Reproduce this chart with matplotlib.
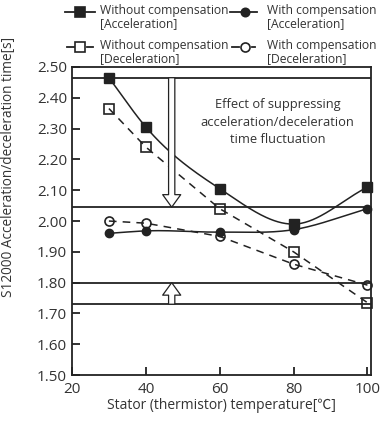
import numpy as np
import matplotlib
matplotlib.use('Agg')
import matplotlib.pyplot as plt
from matplotlib.lines import Line2D

plt.rcParams['font.family'] = ['Open Sans', 'Noto Sans CJK JP', 'DejaVu Sans']

temps = [30, 40, 60, 80, 100]
wo_acc = [2.465, 2.305, 2.105, 1.99, 2.11]
w_acc = [1.96, 1.968, 1.964, 1.972, 2.04]
wo_dec = [2.365, 2.24, 2.04, 1.90, 1.735]
w_dec = [2.00, 1.993, 1.95, 1.86, 1.792]

labels = ['Without compensation\n[Acceleration]',
          'With compensation\n[Acceleration]',
          'Without compensation\n[Deceleration]',
          'With compensation\n[Deceleration]']

hlines = [2.465, 2.045, 1.80, 1.73]
ink = '#222222'
txt = '#333333'


def smooth(x, y, n=200):
    # cubic hermite through the points, only used to draw the curve
    x = np.asarray(x, float)
    y = np.asarray(y, float)
    xs = np.linspace(x[0], x[-1], n)
    m = np.gradient(y, x)
    ys = np.empty_like(xs)
    for k, xv in enumerate(xs):
        i = min(np.searchsorted(x, xv, side='right') - 1, len(x) - 2)
        h = x[i + 1] - x[i]
        t = (xv - x[i]) / h
        h00 = 2 * t**3 - 3 * t**2 + 1
        h10 = t**3 - 2 * t**2 + t
        h01 = -2 * t**3 + 3 * t**2
        h11 = t**3 - t**2
        ys[k] = h00 * y[i] + h10 * h * m[i] + h01 * y[i + 1] + h11 * h * m[i + 1]
    return xs, ys


fig = plt.figure(figsize=(3.87, 4.21), dpi=100)
ax = fig.add_axes([0.186, 0.109, 0.773, 0.732])

for yv in hlines:
    ax.axhline(yv, color=ink, lw=1.3, zorder=1)

xs, ys = smooth(temps, wo_acc)
ax.plot(xs, ys, color=ink, lw=1.1, zorder=2)
xs, ys = smooth(temps, w_acc)
ax.plot(xs, ys, color=ink, lw=1.1, zorder=2)
ax.plot(temps, wo_dec, color=ink, lw=1.1, ls=(0, (5, 4)), zorder=2)
ax.plot(temps, w_dec, color=ink, lw=1.1, ls=(0, (5, 4)), zorder=2)

ax.plot(temps, wo_acc, 's', color=ink, ms=7.2, zorder=3, clip_on=False)
ax.plot(temps, w_acc, 'o', color=ink, ms=6, zorder=3, clip_on=False)
ax.plot(temps, wo_dec, 's', mfc='none', mec=ink, mew=1.2, ms=7, zorder=3, clip_on=False)
ax.plot(temps, w_dec, 'o', mfc='none', mec=ink, mew=1.2, ms=6.5, zorder=3, clip_on=False)

arrow = dict(arrowstyle='simple,head_width=1.3,head_length=0.9,tail_width=0.45',
             fc='white', ec=ink, lw=0.9, shrinkA=0, shrinkB=0)
ax.annotate('', xy=(47, 2.045), xytext=(47, 2.465), arrowprops=arrow, zorder=4)
ax.annotate('', xy=(47, 1.80), xytext=(47, 1.73), arrowprops=arrow, zorder=4)

ax.text(75.6, 2.32, 'Effect of suppressing\nacceleration/deceleration\ntime fluctuation',
        ha='center', va='center', fontsize=9.3, color=txt, linespacing=1.45)

ax.set_xlim(20, 101)
ax.set_ylim(1.50, 2.50)
ax.set_xticks([20, 40, 60, 80, 100])
yt = np.arange(1.5, 2.51, 0.1)
ax.set_yticks(yt)
ax.set_yticklabels(['%.2f' % v for v in yt])
ax.tick_params(direction='in', length=6, width=1.3, labelsize=11, colors=ink, labelcolor=txt)
ax.tick_params(axis='x', pad=5)
for s in ax.spines.values():
    s.set_linewidth(1.3)
    s.set_color(ink)

ax.set_xlabel('Stator (thermistor) temperature[℃]', fontsize=10, labelpad=1, color=txt)
ax.set_ylabel('S12000 Acceleration/deceleration time[s]', fontsize=9.8, color=txt)
ax.yaxis.set_label_coords(-0.188, 0.675)

# legend drawn by hand so the handle sits on the first text line
W, H = 387.0, 421.0
cols = [(65, 95, 80, 100), (230, 257, 245, 267)]
rows = [(12, 4), (47, 39)]
styles = [('s', ink, 7.2), ('o', ink, 6), ('s', 'none', 7), ('o', 'none', 6.5)]
for k, lab in enumerate(labels):
    r, c = divmod(k, 2)
    x0, x1, xm, xt = cols[c]
    ym, yt_ = rows[r]
    mk, fc, ms = styles[k]
    if r == 0:
        fig.add_artist(Line2D([x0 / W, x1 / W], [1 - ym / H] * 2, color=ink, lw=1.3,
                              transform=fig.transFigure))
    else:
        fig.add_artist(Line2D([(x0 + 2) / W, (xm - 6) / W], [1 - ym / H] * 2, color=ink, lw=1.3,
                              transform=fig.transFigure))
        fig.add_artist(Line2D([(xm + 7) / W, (x1 - 2) / W], [1 - ym / H] * 2, color=ink, lw=1.3,
                              transform=fig.transFigure))
    fig.add_artist(Line2D([xm / W], [1 - ym / H], marker=mk, ms=ms, mfc=fc, mec=ink,
                          mew=1.2, ls='none', transform=fig.transFigure))
    fig.text(xt / W, 1 - yt_ / H, lab, ha='left', va='top', fontsize=8.7,
             color=txt, linespacing=1.0)

fig.savefig('out.png', dpi=100)
